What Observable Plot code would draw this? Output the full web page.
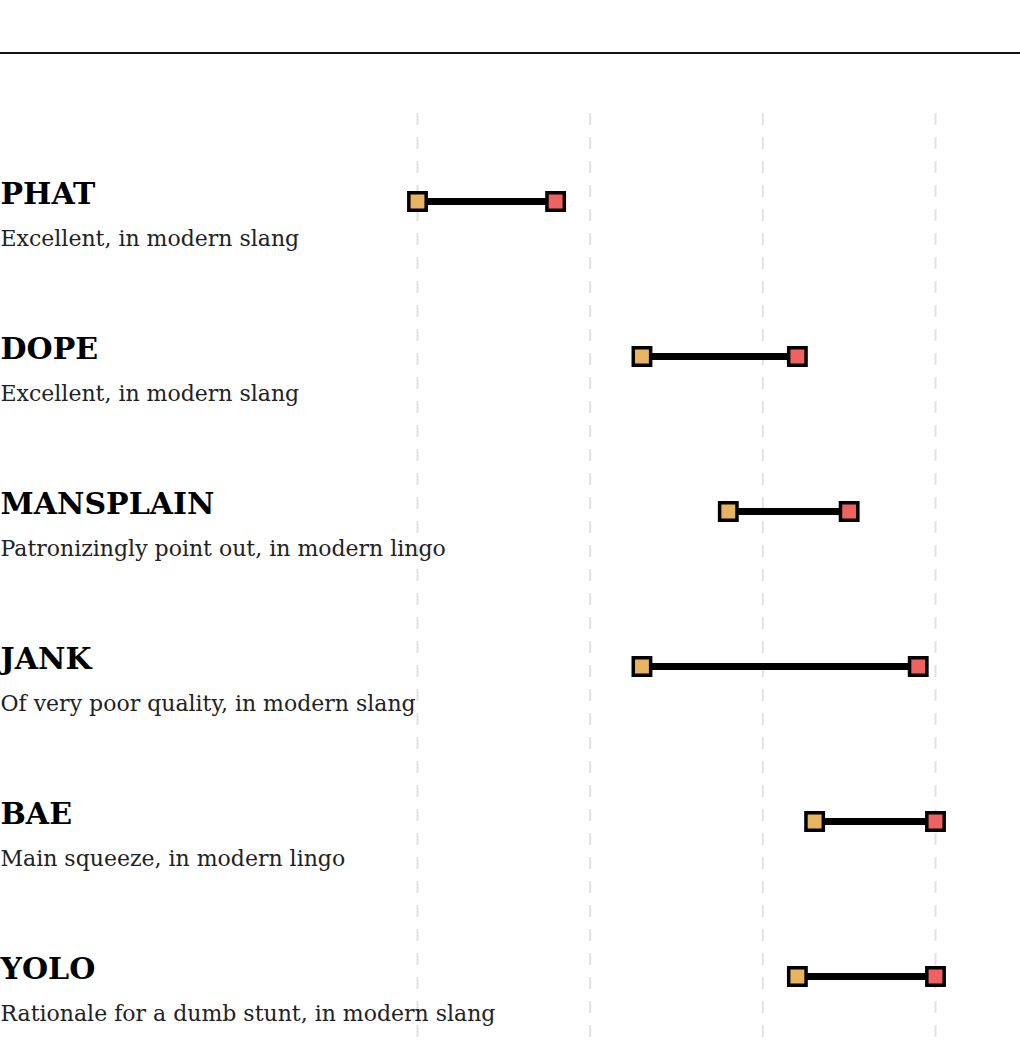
<!DOCTYPE html>
<html>
<head>
<meta charset="utf-8">
<script src="https://cdn.jsdelivr.net/npm/d3@7"></script>
<script src="https://cdn.jsdelivr.net/npm/@observablehq/plot@0.6"></script>
<style>
  html, body { margin: 0; padding: 0; background: #fff; }
  #header { height: 52px; border-bottom: 2px solid #111; width: 1020px; }
  #chart svg { display: block; }
</style>
</head>
<body>
<div id="header"></div>
<div id="chart"></div>
<script>
const words = ["PHAT", "DOPE", "MANSPLAIN", "JANK", "BAE", "YOLO"];
const definitions = [
  "Excellent, in modern slang",
  "Excellent, in modern slang",
  "Patronizingly point out, in modern lingo",
  "Of very poor quality, in modern slang",
  "Main squeeze, in modern lingo",
  "Rationale for a dumb stunt, in modern slang"
];
const startYears = [1990, 2003, 2008, 2003, 2013, 2012];
const endYears   = [1998, 2012, 2015, 2019, 2020, 2020];
const gridTicks  = [1990, 2000, 2010, 2020];

const rows = words.map((w, i) => ({
  word: w, definition: definitions[i], start: startYears[i], end: endYears[i]
}));

const serif = "'Roboto Slab', 'DejaVu Serif', serif";

const chart = Plot.plot({
  width: 1020,
  height: 990,
  marginLeft: 417,
  marginRight: 85,
  marginTop: 59,
  marginBottom: 0,
  style: { background: "#fff", fontFamily: serif },
  x: { domain: [1990, 2020], axis: null },
  y: { domain: words, type: "point", range: [145, 923], padding: 0, axis: null },
  marks: [
    Plot.ruleX(gridTicks, { stroke: "#e2e2e2", strokeWidth: 2, strokeDasharray: "12,12" }),
    Plot.text(rows, {
      y: "word", text: "word", frameAnchor: "left", dx: -417, dy: 2,
      textAnchor: "start", lineAnchor: "bottom",
      fontSize: 30, fontWeight: "bold", fill: "#000", fontFamily: serif
    }),
    Plot.text(rows, {
      y: "word", text: "definition", frameAnchor: "left", dx: -417, dy: 44,
      textAnchor: "start", lineAnchor: "bottom",
      fontSize: 22, fontWeight: 300, fill: "#222", fontFamily: serif
    }),
    Plot.link(rows, { x1: "start", x2: "end", y1: "word", y2: "word", stroke: "#000", strokeWidth: 7 }),
    Plot.dot(rows, { x: "start", y: "word", symbol: "square", r: 9.8, fill: "#e9b462", stroke: "#000", strokeWidth: 3.5 }),
    Plot.dot(rows, { x: "end", y: "word", symbol: "square", r: 9.8, fill: "#ef6262", stroke: "#000", strokeWidth: 3.5 })
  ]
});
document.getElementById("chart").appendChild(chart);
</script>
</body>
</html>
